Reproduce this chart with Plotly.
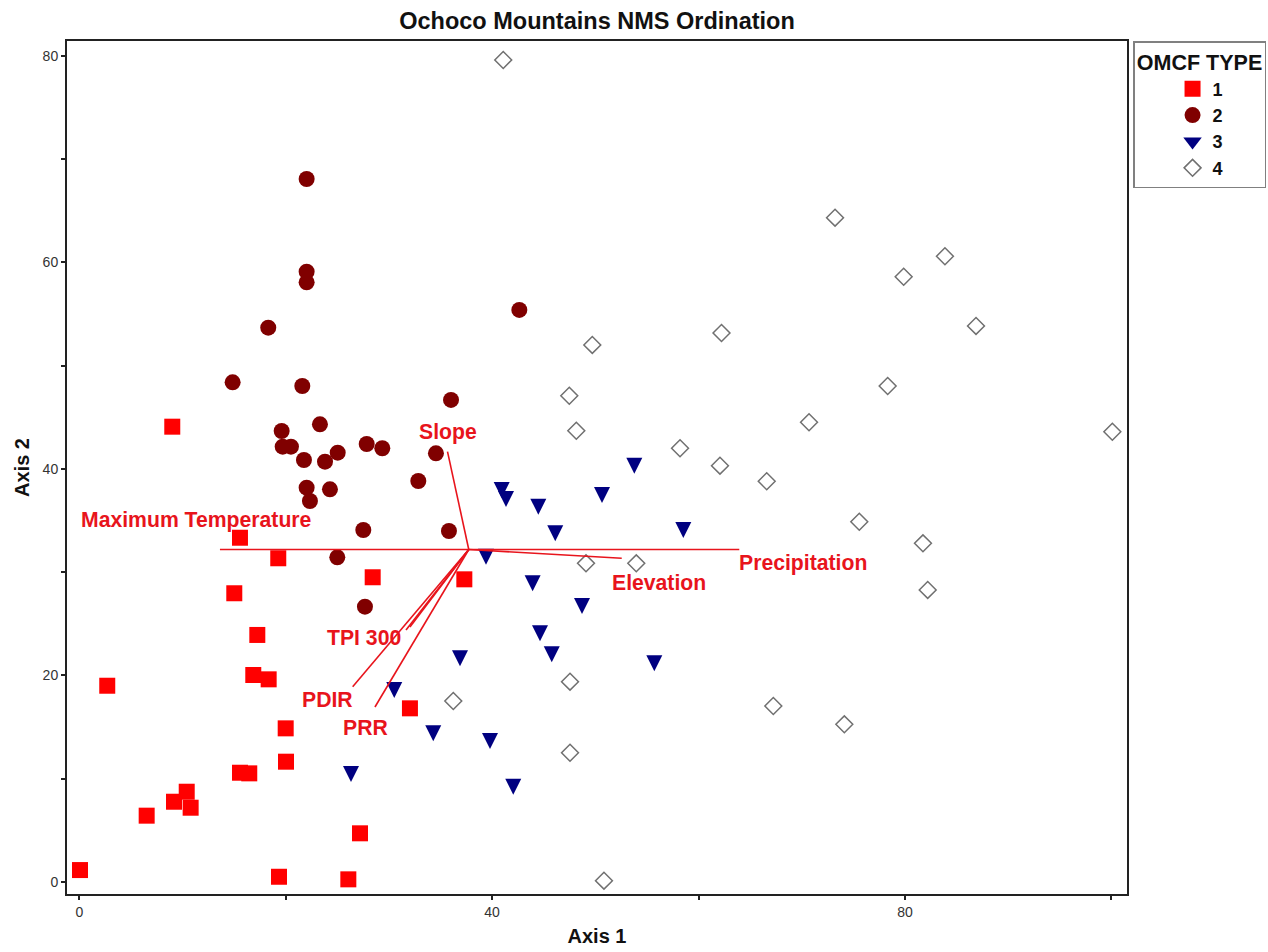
import plotly.graph_objects as go

# NMS ordination scores (Axis 1, Axis 2) by OMCF type
type1_x = [9.01, 15.57, 19.28, 15.02, 28.43, 37.31, 17.25, 16.86, 18.35, 2.71, 20.0, 32.04,
           20.03, 15.57, 16.47, 9.18, 10.41, 10.79, 6.53, 27.20, 0.07, 19.35, 26.07]
type1_y = [44.09, 33.33, 31.34, 27.95, 29.50, 29.30, 23.91, 20.03, 19.61, 18.99, 14.86, 16.80,
           11.63, 10.56, 10.50, 7.75, 8.72, 7.17, 6.40, 4.69, 1.13, 0.48, 0.23]

type2_x = [22.03, 22.03, 22.03, 18.31, 42.64, 14.86, 21.61, 36.02, 23.32, 19.61, 19.71, 20.51, 21.77,
           23.81, 25.04, 27.85, 29.36, 34.56, 32.85, 22.03, 22.35, 24.29, 27.52, 35.82, 25.0, 27.68]
type2_y = [68.09, 59.11, 58.08, 53.68, 55.40, 48.39, 48.03, 46.68, 44.32, 43.67, 42.15, 42.15, 40.86,
           40.70, 41.57, 42.41, 42.00, 41.51, 38.83, 38.18, 36.89, 38.02, 34.08, 33.98, 31.43, 26.65]

type3_x = [53.78, 40.93, 41.35, 44.48, 50.65, 46.12, 58.53, 39.41, 43.93, 48.71, 44.64, 45.78,
           36.89, 55.72, 30.52, 26.33, 34.30, 39.80, 42.05]
type3_y = [40.31, 37.96, 37.08, 36.34, 37.47, 33.76, 34.08, 31.49, 28.91, 26.71, 24.07, 22.03,
           21.65, 21.16, 18.58, 10.44, 14.38, 13.63, 9.21]

type4_x = [41.08, 73.23, 83.88, 79.88, 86.89, 62.23, 49.71, 78.33, 47.48, 70.71, 48.16, 100.10, 58.21,
           62.08, 66.61, 75.58, 81.75, 49.10, 53.97, 82.21, 47.55, 36.24, 67.25, 74.13, 47.55, 50.84]
type4_y = [79.62, 64.34, 60.60, 58.62, 53.85, 53.17, 52.01, 48.03, 47.09, 44.52, 43.70, 43.60, 42.00,
           40.31, 38.80, 34.88, 32.79, 30.85, 30.85, 28.27, 19.38, 17.51, 17.03, 15.25, 12.50, 0.10]

# Joint-plot environmental vectors (from the common centroid)
vector_origin = (37.74, 32.19)
vector_names = ["Maximum Temperature", "Precipitation", "Slope", "Elevation",
                "TPI 300", "", "PDIR", "PRR"]
vector_end_x = [13.63, 63.95, 35.68, 52.56, 31.66, 32.04, 26.49, 28.65]
vector_end_y = [32.19, 32.19, 41.67, 31.34, 24.39, 24.68, 18.90, 16.93]
label_x = [11.38, 70.16, 35.73, 56.15, 27.61, None, 24.08, 27.71]
label_y = [35.05, 30.85, 43.58, 28.97, 23.68, None, 17.61, 14.96]

x_ticks = [0, 20, 40, 60, 80, 100]
x_ticktext = ["0", "", "40", "", "80", ""]
y_ticks = [0, 10, 20, 30, 40, 50, 60, 70, 80]
y_ticktext = ["0", "", "20", "", "40", "", "60", "", "80"]

FONT = "Arial, 'Liberation Sans', sans-serif"
VEC_RED = "#e8141c"
TYPE3_BLUE = "#000080"

fig = go.Figure()

fig.add_trace(go.Scatter(
    x=type1_x, y=type1_y, mode="markers", name="1", legendrank=1,
    marker=dict(symbol="square", size=16, color="#ff0000", line=dict(width=0)),
))
fig.add_trace(go.Scatter(
    x=type2_x, y=type2_y, mode="markers", name="2", legendrank=2,
    marker=dict(symbol="circle", size=16, color="#800000", line=dict(width=0)),
))
# tall downward triangles, centred on each point by the standoff
fig.add_trace(go.Scatter(
    x=type3_x, y=type3_y, mode="markers", name="3", legendgroup="3", showlegend=False,
    marker=dict(symbol="arrow-down", size=16, standoff=8, color=TYPE3_BLUE, line=dict(width=0)),
))
# legend key for type 3 (the legend ignores marker standoff)
fig.add_trace(go.Scatter(
    x=[None], y=[None], mode="markers", name="3", legendgroup="3", legendrank=3,
    marker=dict(symbol="triangle-down", size=16.5, color=TYPE3_BLUE, line=dict(width=0)),
))
fig.add_trace(go.Scatter(
    x=type4_x, y=type4_y, mode="markers", name="4", legendrank=4,
    marker=dict(symbol="diamond", size=13, color="white", line=dict(width=1.5, color="#707070")),
))

# vectors drawn over the points
for ex, ey in zip(vector_end_x, vector_end_y):
    fig.add_trace(go.Scatter(
        x=[vector_origin[0], ex], y=[vector_origin[1], ey], mode="lines",
        line=dict(color=VEC_RED, width=1.6), showlegend=False, hoverinfo="skip",
    ))

for name, lx, ly in zip(vector_names, label_x, label_y):
    if not name:
        continue
    fig.add_annotation(
        x=lx, y=ly, xref="x", yref="y", text=name, showarrow=False,
        font=dict(family=FONT, size=21.2, color=VEC_RED, weight="bold"),
        xanchor="center", yanchor="middle",
    )

axis_common = dict(
    showgrid=False, zeroline=False, showline=True, mirror=True, automargin=False,
    linecolor="#222222", linewidth=2,
    ticks="outside", ticklen=4, tickwidth=1.5, tickcolor="#222222",
    tickfont=dict(family=FONT, size=14, color="#333333"),
)

fig.update_layout(
    width=1268, height=952,
    margin=dict(l=67, r=141, t=41, b=58, autoexpand=False),
    paper_bgcolor="white", plot_bgcolor="white",
    font=dict(family=FONT),
    title=dict(
        text="Ochoco Mountains NMS Ordination",
        x=0.5, xref="paper", xanchor="center",
        y=1 - 21 / 952, yref="container", yanchor="middle",
        font=dict(family=FONT, size=23.5, color="#111111", weight="bold"),
    ),
    xaxis=dict(
        range=[-1.19, 101.52], tickvals=x_ticks, ticktext=x_ticktext,
        title=dict(text="Axis 1", standoff=10,
                   font=dict(family=FONT, size=20, color="#111111", weight="bold")),
        **axis_common,
    ),
    yaxis=dict(
        range=[-1.19, 81.46], tickvals=y_ticks, ticktext=y_ticktext,
        title=dict(text="Axis 2", standoff=8,
                   font=dict(family=FONT, size=20, color="#111111", weight="bold")),
        **axis_common,
    ),
    legend=dict(
        x=1.0057, xanchor="left", y=1, yanchor="top",
        bgcolor="white", bordercolor="#808080", borderwidth=1.5,
        font=dict(family=FONT, size=18, color="#111111", weight="bold"),
        title=dict(text="OMCF TYPE", side="top center",
                   font=dict(family=FONT, size=21.5, color="#111111", weight="bold")),
        indentation=38,
        tracegroupgap=0,
        traceorder="normal",
    ),
)

fig.write_html("out.html")
